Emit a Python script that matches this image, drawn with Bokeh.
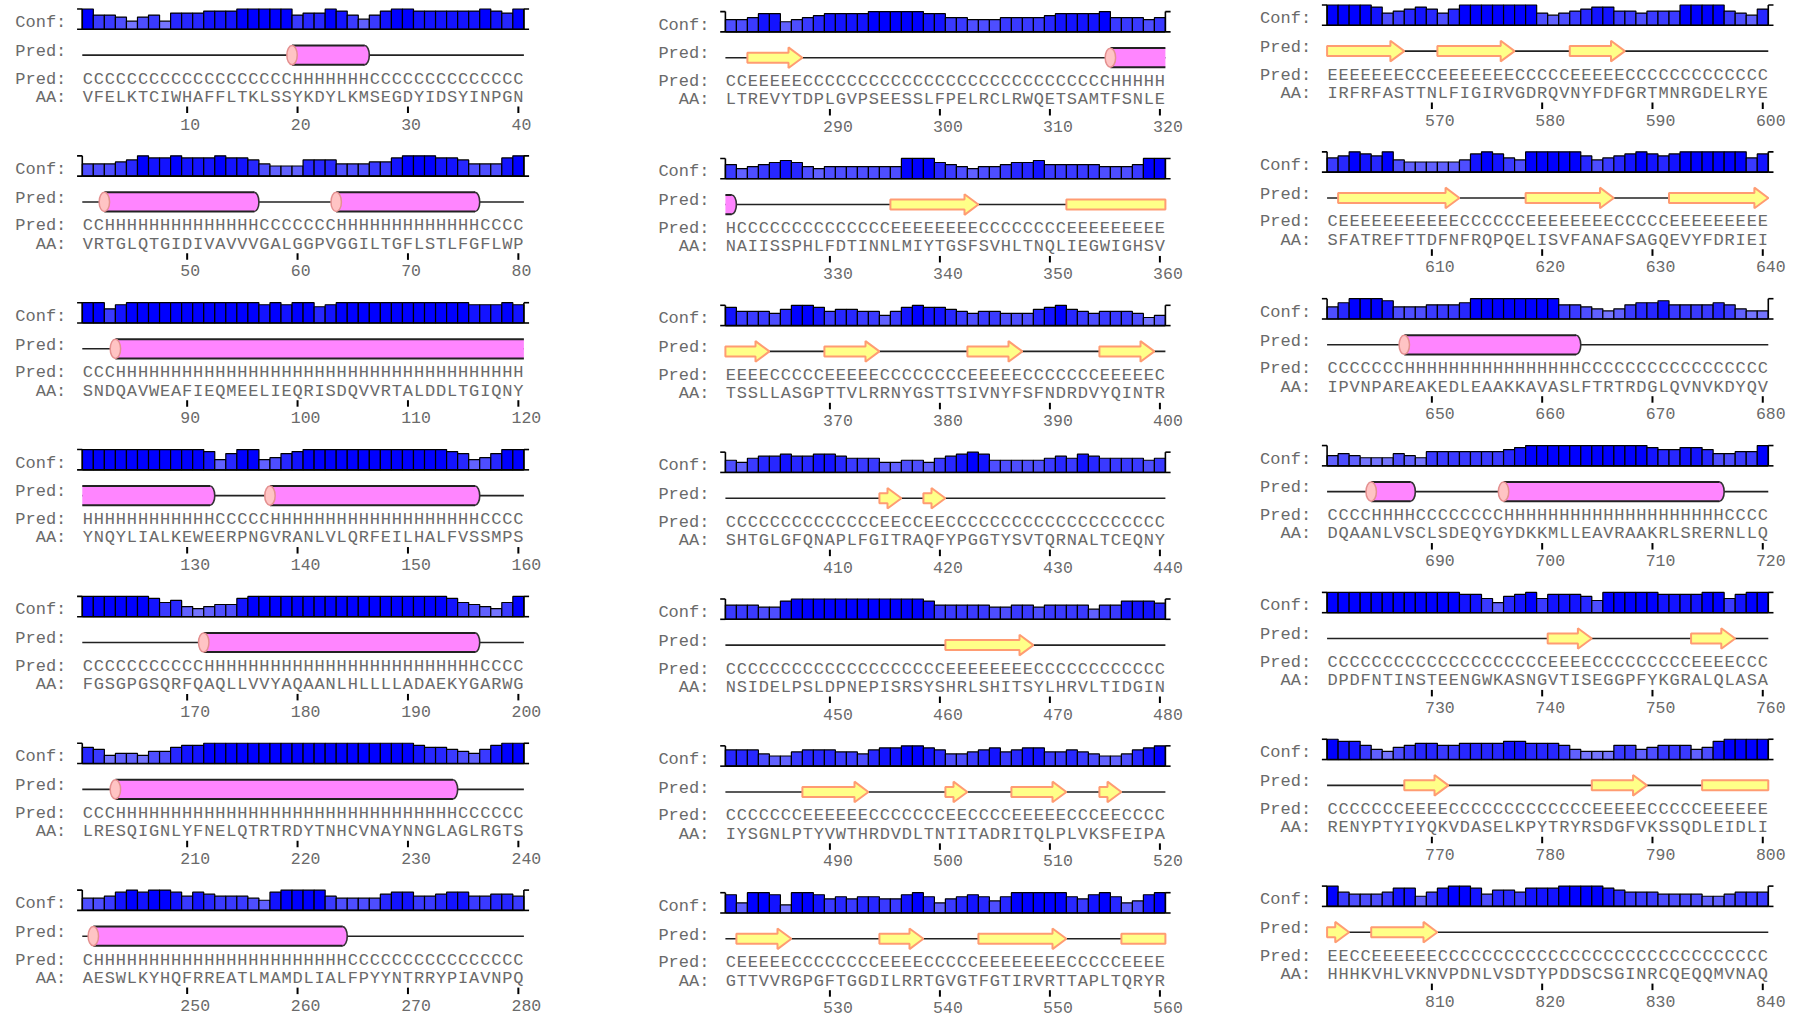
import numpy as np
from bokeh.plotting import figure
from bokeh.models import Range1d
from bokeh.core.properties import value
from bokeh.embed import file_html
from bokeh.resources import INLINE

# ---------------- data ----------------
AA_ROWS = [
    "VFELKTCIWHAFFLTKLSSYKDYLKMSEGDYIDSYINPGN",
    "VRTGLQTGIDIVAVVVGALGGPVGGILTGFLSTLFGFLWP",
    "SNDQAVWEAFIEQMEELIEQRISDQVVRTALDDLTGIQNY",
    "YNQYLIALKEWEERPNGVRANLVLQRFEILHALFVSSMPS",
    "FGSGPGSQRFQAQLLVVYAQAANLHLLLLADAEKYGARWG",
    "LRESQIGNLYFNELQTRTRDYTNHCVNAYNNGLAGLRGTS",
    "AESWLKYHQFRREATLMAMDLIALFPYYNTRRYPIAVNPQ",
    "LTREVYTDPLGVPSEESSLFPELRCLRWQETSAMTFSNLE",
    "NAIISSPHLFDTINNLMIYTGSFSVHLTNQLIEGWIGHSV",
    "TSSLLASGPTTVLRRNYGSTTSIVNYFSFNDRDVYQINTR",
    "SHTGLGFQNAPLFGITRAQFYPGGTYSVTQRNALTCEQNY",
    "NSIDELPSLDPNEPISRSYSHRLSHITSYLHRVLTIDGIN",
    "IYSGNLPTYVWTHRDVDLTNTITADRITQLPLVKSFEIPA",
    "GTTVVRGPGFTGGDILRRTGVGTFGTIRVRTTAPLTQRYR",
    "IRFRFASTTNLFIGIRVGDRQVNYFDFGRTMNRGDELRYE",
    "SFATREFTTDFNFRQPQELISVFANAFSAGQEVYFDRIEI",
    "IPVNPAREAKEDLEAAKKAVASLFTRTRDGLQVNVKDYQV",
    "DQAANLVSCLSDEQYGYDKKMLLEAVRAAKRLSRERNLLQ",
    "DPDFNTINSTEENGWKASNGVTISEGGPFYKGRALQLASA",
    "RENYPTYIYQKVDASELKPYTRYRSDGFVKSSQDLEIDLI",
    "HHHKVHLVKNVPDNLVSDTYPDDSCSGINRCQEQQMVNAQ",
]

PRED_ROWS = [
    "CCCCCCCCCC" "CCCCCCCCC" "HHHHHHH" "CCCCCCCCCC" "CCCC",
    "CC" "HHHHHHHHHH" "HHHH" "CCCCCCC" "HHHHHHHHHH" "HHH" "CCCC",
    "CCC" "HHHHHHHHHH" "HHHHHHHHHH" "HHHHHHHHHH" "HHHHHHH",
    "HHHHHHHHHH" "HH" "CCCCC" "HHHHHHHHHH" "HHHHHHHHH" "CCCC",
    "CCCCCCCCCC" "C" "HHHHHHHHHH" "HHHHHHHHHH" "HHHHH" "CCCC",
    "CCC" "HHHHHHHHHH" "HHHHHHHHHH" "HHHHHHHHHH" "H" "CCCCCC",
    "C" "HHHHHHHHHH" "HHHHHHHHHH" "HHH" "CCCCCCCCCC" "CCCCCC",
    "CC" "EEEEE" "CCCCCCCCCC" "CCCCCCCCCC" "CCCCCCCC" "HHHHH",
    "H" "CCCCCCCCCC" "CCCC" "EEEEEEEE" "CCCCCCCC" "EEEEEEEEE",
    "EEEE" "CCCCC" "EEEEE" "CCCCCCCC" "EEEEE" "CCCCCCC" "EEEEE" "C",
    "CCCCCCCCCC" "CCCC" "EE" "CC" "EE" "CCCCCCCCCC" "CCCCCCCCCC",
    "CCCCCCCCCC" "CCCCCCCCCC" "EEEEEEEE" "CCCCCCCCCC" "CC",
    "CCCCCCC" "EEEEEE" "CCCCCCC" "EE" "CCCC" "EEEEE" "CCC" "EE" "CCCC",
    "C" "EEEEE" "CCCCCCCC" "EEEE" "CCCCC" "EEEEEEEE" "CCCCC" "EEEE",
    "EEEEEEE" "CCC" "EEEEEEE" "CCCCC" "EEEEE" "CCCCCCCCCC" "CCC",
    "C" "EEEEEEEEEE" "E" "CCCCCC" "EEEEEEEE" "CCCCC" "EEEEEEEEE",
    "CCCCCCC" "HHHHHHHHHH" "HHHHHH" "CCCCCCCCCC" "CCCCCCC",
    "CCCC" "HHHH" "CCCCCCCC" "HHHHHHHHHH" "HHHHHHHHHH" "CCCC",
    "CCCCCCCCCC" "CCCCCCCCCC" "EEEE" "CCCCCCCCC" "EEEE" "CCC",
    "CCCCCCC" "EEEE" "CCCCCCCCCC" "CCC" "EEEEE" "CCCCC" "EEEEEE",
    "EE" "CC" "EEEEEE" "CCCCCCCCCC" "CCCCCCCCCC" "CCCCCCCCCC",
]

CONF_ROWS = [
    "9665356377" "7888999996" "7798646899" "8888889879",
    "5556798898" "8898875444" "7775556689" "9988755589",
    "9968999999" "9999998989" "9789999999" "9999988898",
    "9999999999" "9847994578" "9999999999" "9998745799",
    "9999998674" "3455899999" "9999999999" "9998654369",
    "7634435578" "8999999999" "9999999999" "8776546899",
    "5568989986" "8766654899" "9965555788" "6678866776",
    "5568845678" "8889999988" "6655566667" "8888966656",
    "6456787545" "5555559997" "6545567786" "6666555699",
    "8666579986" "7766468988" "7656655578" "9765666534",
    "5467787788" "7666445546" "7898555556" "7687666656",
    "6665589999" "9999999986" "6666556656" "6664668887",
    "7775446777" "6657889987" "5567867886" "6765445789",
    "8499839986" "7677668974" "6787579999" "9768974589",
    "9999856787" "5799999995" "4567886656" "6699996547",
    "6798795444" "4458986599" "9997567898" "7899999968",
    "5799985556" "6679999999" "9665434677" "8666676433",
    "4543335436" "6666667899" "9999999998" "7788755669",
    "9999999999" "9988647896" "8887599999" "8888996899",
    "9886435677" "6677778877" "7643336645" "6664589999",
    "9655568846" "8998577688" "8999987666" "5555445666",
]

LABEL_CONF = "Conf:"
LABEL_PRED = "Pred:"
LABEL_AA = "AA:"

for rows in (AA_ROWS, PRED_ROWS, CONF_ROWS):
    assert len(rows) == 21
    for i, s in enumerate(rows):
        assert len(s) == 40, (i, s, len(s))

SEQ = "".join(AA_ROWS)
PRED = "".join(PRED_ROWS)
CONF = [int(ch) for ch in "".join(CONF_ROWS)]
N = len(SEQ)

# ---------------- layout (screen pixels) ----------------
W, H = 1800, 1017
ROW_LEN = 40
ROWS_PER_COL = 7
COL_X0 = [87.3, 730.4, 1332.1]
COL_DX = [11.04, 11.0, 11.03]
COL_Y0 = [22.0, 24.6, 18.0]
ROW_STEP = 146.85

OFF_BASE = 6.8
BAR_H = 20.3
OFF_PRED_LBL = 28.8
OFF_CART = 32.6
OFF_PREDTXT = 56.6
OFF_AA = 74.8
OFF_TICK0, OFF_TICK1 = 84.0, 90.5
OFF_NUM = 101.5
LABEL_GAP = 21.5
NUM_SHIFT = 6.8

FONT = value("Liberation Mono")
FSIZE = "17px"
NUM_FSIZE = "16.5px"
TXT = "#6a6a6a"
HELIX_FILL = "#ff85ff"
CAP_FILL = "#ffc4c4"
CAP_LINE = "#e49090"
STRAND_FILL = "#ffff88"
STRAND_LINE = "#ff9c72"

p = figure(width=W, height=H, x_range=Range1d(0, W), y_range=Range1d(H, 0),
           output_backend="svg", toolbar_location=None, min_border=0,
           x_axis_location=None, y_axis_location=None)
p.grid.visible = False
p.outline_line_color = None
p.background_fill_color = "white"
p.border_fill_color = "white"

bar = dict(left=[], right=[], top=[], bottom=[], color=[])
base_seg = dict(x0=[], y0=[], x1=[], y1=[])
brk = dict(x0=[], y0=[], x1=[], y1=[])
coil = dict(x0=[], y0=[], x1=[], y1=[])
ticks = dict(x0=[], y0=[], x1=[], y1=[])
nums = dict(x=[], y=[], t=[])
lbl_conf = dict(x=[], y=[]); lbl_pred1 = dict(x=[], y=[]); lbl_pred2 = dict(x=[], y=[]); lbl_aa = dict(x=[], y=[])
chars_pred = dict(x=[], y=[], t=[]); chars_aa = dict(x=[], y=[], t=[])
hel_body = dict(left=[], right=[], top=[], bottom=[])
hel_edge = dict(x0=[], y0=[], x1=[], y1=[])
hel_end = dict(x=[], y=[])
hel_cap = dict(x=[], y=[])
str_xs, str_ys = [], []

HH = 9.6      # helix half height
CAPW = 10.4
ENDW = 9.4
SB = 5.0      # strand body half height
SH = 10.3     # strand head half height
HL = 13.9     # head length


def runs(s, ch):
    out, i = [], 0
    while i < len(s):
        if s[i] == ch:
            j = i
            while j + 1 < len(s) and s[j + 1] == ch:
                j += 1
            out.append((i, j))
            i = j + 1
        else:
            i += 1
    return out


for blk in range(N // ROW_LEN):
    c, r = divmod(blk, ROWS_PER_COL)
    x0, dx = COL_X0[c], COL_DX[c]
    yc = COL_Y0[c] + r * ROW_STEP
    start = blk * ROW_LEN
    xs = x0 + dx * np.arange(ROW_LEN)
    lx = x0 - LABEL_GAP
    lbl_conf["x"].append(lx); lbl_conf["y"].append(yc)
    lbl_pred1["x"].append(lx); lbl_pred1["y"].append(yc + OFF_PRED_LBL)
    lbl_pred2["x"].append(lx); lbl_pred2["y"].append(yc + OFF_PREDTXT)
    lbl_aa["x"].append(lx); lbl_aa["y"].append(yc + OFF_AA)

    yb = yc + OFF_BASE
    xl = xs[0] - dx / 2
    xr = xs[-1] + dx / 2
    for k in range(ROW_LEN):
        cv = CONF[start + k]
        h = BAR_H * (cv + 1) / 10.0
        bar["left"].append(xs[k] - dx / 2); bar["right"].append(xs[k] + dx / 2)
        bar["bottom"].append(yb); bar["top"].append(yb - h)
        g = int(round(175 * (1 - cv / 9.0)))
        bar["color"].append("#%02x%02x%02x" % (g, g, 255))
        chars_pred["x"].append(xs[k]); chars_pred["y"].append(yc + OFF_PREDTXT); chars_pred["t"].append(PRED[start + k])
        chars_aa["x"].append(xs[k]); chars_aa["y"].append(yc + OFF_AA); chars_aa["t"].append(SEQ[start + k])
        num = start + k + 1
        if num % 10 == 0:
            ticks["x0"].append(xs[k]); ticks["x1"].append(xs[k])
            ticks["y0"].append(yc + OFF_TICK0); ticks["y1"].append(yc + OFF_TICK1)
            nums["x"].append(xs[k] - NUM_SHIFT); nums["y"].append(yc + OFF_NUM); nums["t"].append(str(num))
    base_seg["x0"].append(xl); base_seg["x1"].append(xr); base_seg["y0"].append(yb); base_seg["y1"].append(yb)
    ytop = yb - BAR_H
    for xb, sgn in ((xl, -1), (xr, 1)):
        brk["x0"].append(xb); brk["x1"].append(xb); brk["y0"].append(yb); brk["y1"].append(ytop)
        for yy in (yb, ytop):
            brk["x0"].append(xb); brk["x1"].append(xb + sgn * 5.2); brk["y0"].append(yy); brk["y1"].append(yy)

    ycart = yc + OFF_CART
    coil["x0"].append(xl); coil["x1"].append(xr); coil["y0"].append(ycart); coil["y1"].append(ycart)
    seg = PRED[start:start + ROW_LEN]
    for a, b in runs(seg, "H"):
        ga, gb = start + a, start + b
        cont_prev = (a == 0 and ga > 0 and PRED[ga - 1] == "H")
        cont_next = (b == ROW_LEN - 1 and gb + 1 < N and PRED[gb + 1] == "H")
        hs = xs[a] - dx / 2
        he = xs[b] + dx / 2
        body_end = he if cont_next else he - ENDW / 2
        if not cont_next:
            hel_end["x"].append(he - ENDW / 2); hel_end["y"].append(ycart)
        hel_body["left"].append(hs); hel_body["right"].append(body_end)
        hel_body["top"].append(ycart - HH); hel_body["bottom"].append(ycart + HH)
        for yy in (ycart - HH, ycart + HH):
            hel_edge["x0"].append(hs); hel_edge["x1"].append(body_end)
            hel_edge["y0"].append(yy); hel_edge["y1"].append(yy)
        if not cont_prev:
            hel_cap["x"].append(hs); hel_cap["y"].append(ycart)
    for a, b in runs(seg, "E"):
        ga, gb = start + a, start + b
        cont_next = (b == ROW_LEN - 1 and gb + 1 < N and PRED[gb + 1] == "E")
        ss = xs[a] - dx / 2
        se = xs[b] + dx / 2
        if cont_next:
            str_xs.append([ss, se, se, ss])
            str_ys.append([ycart - SB, ycart - SB, ycart + SB, ycart + SB])
        else:
            hb = se - HL
            str_xs.append([ss, hb, hb, se, hb, hb, ss])
            str_ys.append([ycart - SB, ycart - SB, ycart - SH, ycart, ycart + SH, ycart + SB, ycart + SB])

# confidence bars
p.quad(left="left", right="right", top="top", bottom="bottom", fill_color="color",
       line_color="black", line_width=1.2, source=bar)
p.segment(x0="x0", y0="y0", x1="x1", y1="y1", line_color="black", line_width=1.6, source=base_seg)
p.segment(x0="x0", y0="y0", x1="x1", y1="y1", line_color="black", line_width=1.6, source=brk)

# cartoon
p.segment(x0="x0", y0="y0", x1="x1", y1="y1", line_color="#222222", line_width=1.6, source=coil)
p.ellipse(x="x", y="y", width=ENDW, height=2 * HH, fill_color=HELIX_FILL, line_color="#333333",
          line_width=1.6, source=hel_end)
p.quad(left="left", right="right", top="top", bottom="bottom", fill_color=HELIX_FILL,
       line_color=None, source=hel_body)
p.segment(x0="x0", y0="y0", x1="x1", y1="y1", line_color="#222222", line_width=2, source=hel_edge)
p.ellipse(x="x", y="y", width=CAPW, height=2 * HH, fill_color=CAP_FILL, line_color=CAP_LINE,
          line_width=1.5, source=hel_cap)
p.patches(xs=str_xs, ys=str_ys, fill_color=STRAND_FILL, line_color=STRAND_LINE, line_width=2)

# ticks and numbers
p.segment(x0="x0", y0="y0", x1="x1", y1="y1", line_color="black", line_width=2, source=ticks)
p.text(x="x", y="y", text="t", source=nums, text_font=FONT, text_font_size=NUM_FSIZE,
       text_color=TXT, text_align="left", text_baseline="middle")

# texts
for src, lab in ((lbl_conf, LABEL_CONF), (lbl_pred1, LABEL_PRED), (lbl_pred2, LABEL_PRED), (lbl_aa, LABEL_AA)):
    src = dict(src); src["t"] = [lab] * len(src["x"])
    p.text(x="x", y="y", text="t", source=src, text_font=FONT, text_font_size=FSIZE,
           text_color=TXT, text_align="right", text_baseline="middle")
for src in (chars_pred, chars_aa):
    p.text(x="x", y="y", text="t", source=src, text_font=FONT, text_font_size=FSIZE,
           text_color=TXT, text_align="center", text_baseline="middle")

open("out.html", "w").write(file_html(p, INLINE))
